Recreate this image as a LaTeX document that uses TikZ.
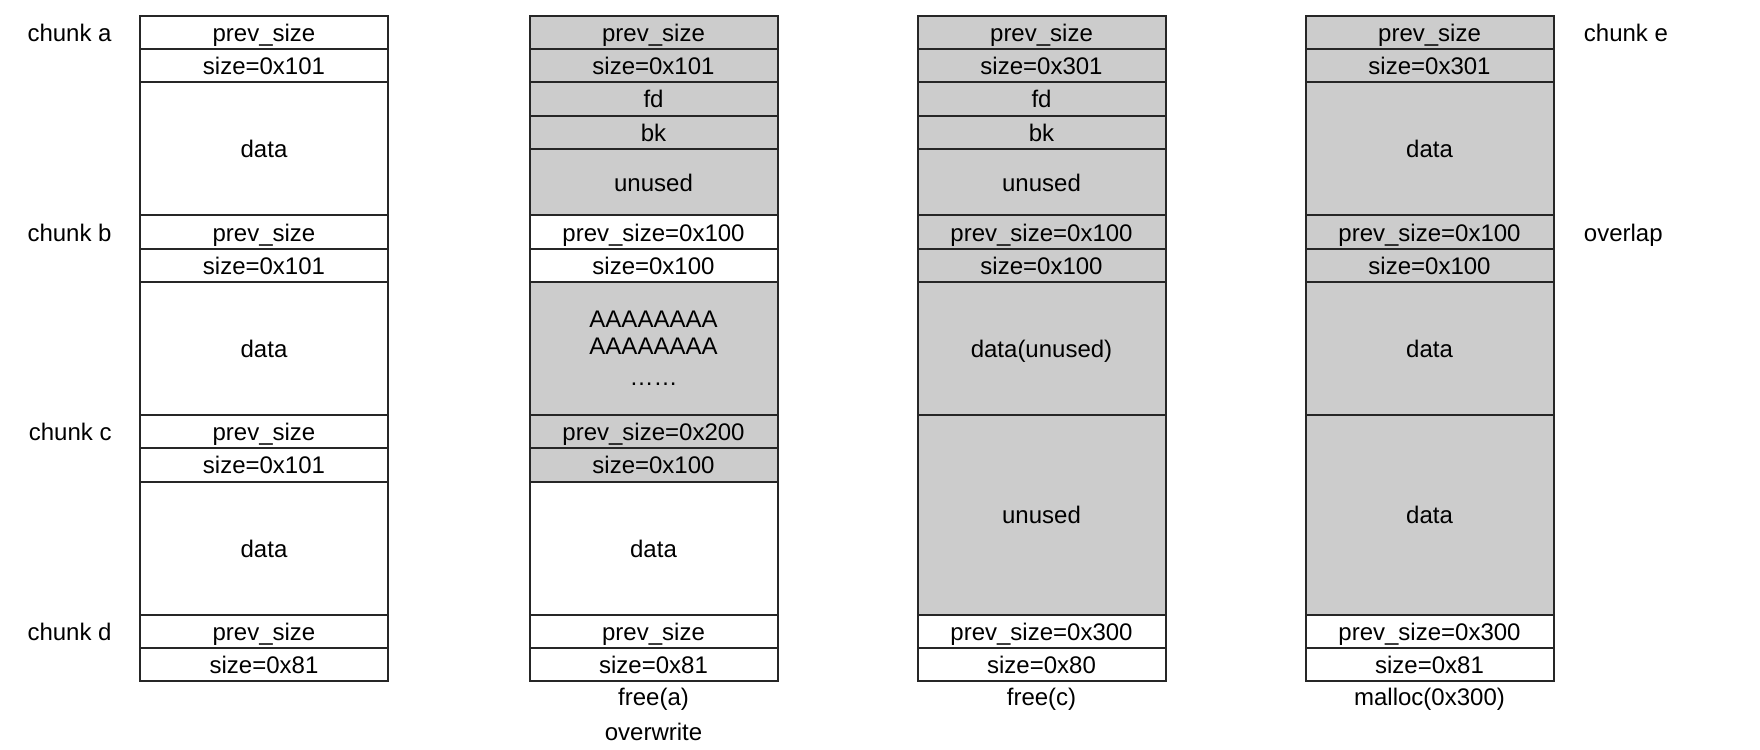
\documentclass[tikz,border=0pt]{standalone}
\usepackage{fontspec}
\setmainfont{Liberation Sans}
\usetikzlibrary{positioning}

\tikzstyle{mem-cell}=[draw=black!85, line width=1pt, outer sep=0pt, inner sep=0pt,
  minimum width=124pt, font=\fontsize{12pt}{13.5pt}\selectfont]
\tikzstyle{slot-1}=[mem-cell, minimum height=16.64pt, text height=9pt, text depth=0pt]
\tikzstyle{slot-2}=[mem-cell, minimum height=33.28pt, text height=9pt, text depth=0pt]
\tikzstyle{slot-4}=[mem-cell, minimum height=66.56pt, text height=9pt, text depth=0pt]
\tikzstyle{slot-6}=[mem-cell, minimum height=99.84pt, text height=9pt, text depth=0pt]
\tikzstyle{chunk-label}=[inner sep=0pt, text height=9pt, text depth=0pt,
  font=\fontsize{12pt}{13.5pt}\selectfont]
\definecolor{freed}{HTML}{CCCCCC}

\begin{document}
\begin{tikzpicture}
  \useasboundingbox (0,0) rectangle (880pt,-374.5pt);

  % original heap
  \node (orig-a-prev) at (132pt, -7.85pt) [slot-1, anchor=north] {prev\_size};
  \node (orig-a-size) [slot-1, below=0pt of orig-a-prev] {size=0x101};
  \node (orig-a-data) [slot-4, below=0pt of orig-a-size] {data};
  \node (orig-b-prev) [slot-1, below=0pt of orig-a-data] {prev\_size};
  \node (orig-b-size) [slot-1, below=0pt of orig-b-prev] {size=0x101};
  \node (orig-b-data) [slot-4, below=0pt of orig-b-size] {data};
  \node (orig-c-prev) [slot-1, below=0pt of orig-b-data] {prev\_size};
  \node (orig-c-size) [slot-1, below=0pt of orig-c-prev] {size=0x101};
  \node (orig-c-data) [slot-4, below=0pt of orig-c-size] {data};
  \node (orig-d-prev) [slot-1, below=0pt of orig-c-data] {prev\_size};
  \node (orig-d-size) [slot-1, below=0pt of orig-d-prev] {size=0x81};

  \node (lbl-a) [chunk-label, left=14pt of orig-a-prev] {chunk a};
  \node (lbl-b) [chunk-label, left=14pt of orig-b-prev] {chunk b};
  \node (lbl-c) [chunk-label, left=14pt of orig-c-prev] {chunk c};
  \node (lbl-d) [chunk-label, left=14pt of orig-d-prev] {chunk d};

  % free(a) + overwrite
  \node (ovw-a-prev) at (326.75pt, -7.85pt) [slot-1, anchor=north, fill=freed] {prev\_size};
  \node (ovw-a-size) [slot-1, fill=freed, below=0pt of ovw-a-prev] {size=0x101};
  \node (ovw-a-fd) [slot-1, fill=freed, below=0pt of ovw-a-size] {fd};
  \node (ovw-a-bk) [slot-1, fill=freed, below=0pt of ovw-a-fd] {bk};
  \node (ovw-a-unused) [slot-2, fill=freed, below=0pt of ovw-a-bk] {unused};
  \node (ovw-b-prev) [slot-1, below=0pt of ovw-a-unused] {prev\_size=0x100};
  \node (ovw-b-size) [slot-1, below=0pt of ovw-b-prev] {size=0x100};
  \node (ovw-b-data) [mem-cell, minimum height=66.56pt, align=center, fill=freed,
        below=0pt of ovw-b-size] {AAAAAAAA\\AAAAAAAA\\[2pt]……};
  \node (ovw-c-prev) [slot-1, fill=freed, below=0pt of ovw-b-data] {prev\_size=0x200};
  \node (ovw-c-size) [slot-1, fill=freed, below=0pt of ovw-c-prev] {size=0x100};
  \node (ovw-c-data) [slot-4, below=0pt of ovw-c-size] {data};
  \node (ovw-d-prev) [slot-1, below=0pt of ovw-c-data] {prev\_size};
  \node (ovw-d-size) [slot-1, below=0pt of ovw-d-prev] {size=0x81};

  \node (step-free-a) [chunk-label, below=2.7pt of ovw-d-size] {free(a)};
  \node (step-overwrite) [chunk-label, below=8.1pt of step-free-a] {overwrite};

  % free(c)
  \node (frc-a-prev) at (520.75pt, -7.85pt) [slot-1, anchor=north, fill=freed] {prev\_size};
  \node (frc-a-size) [slot-1, fill=freed, below=0pt of frc-a-prev] {size=0x301};
  \node (frc-a-fd) [slot-1, fill=freed, below=0pt of frc-a-size] {fd};
  \node (frc-a-bk) [slot-1, fill=freed, below=0pt of frc-a-fd] {bk};
  \node (frc-a-unused) [slot-2, fill=freed, below=0pt of frc-a-bk] {unused};
  \node (frc-b-prev) [slot-1, fill=freed, below=0pt of frc-a-unused] {prev\_size=0x100};
  \node (frc-b-size) [slot-1, fill=freed, below=0pt of frc-b-prev] {size=0x100};
  \node (frc-b-data) [slot-4, fill=freed, below=0pt of frc-b-size] {data(unused)};
  \node (frc-c-unused) [slot-6, fill=freed, below=0pt of frc-b-data] {unused};
  \node (frc-d-prev) [slot-1, below=0pt of frc-c-unused] {prev\_size=0x300};
  \node (frc-d-size) [slot-1, below=0pt of frc-d-prev] {size=0x80};

  \node (step-free-c) [chunk-label, below=2.7pt of frc-d-size] {free(c)};

  % malloc(0x300)
  \node (mal-a-prev) at (714.75pt, -7.85pt) [slot-1, anchor=north, fill=freed] {prev\_size};
  \node (mal-a-size) [slot-1, fill=freed, below=0pt of mal-a-prev] {size=0x301};
  \node (mal-a-data) [slot-4, fill=freed, below=0pt of mal-a-size] {data};
  \node (mal-b-prev) [slot-1, fill=freed, below=0pt of mal-a-data] {prev\_size=0x100};
  \node (mal-b-size) [slot-1, fill=freed, below=0pt of mal-b-prev] {size=0x100};
  \node (mal-b-data) [slot-4, fill=freed, below=0pt of mal-b-size] {data};
  \node (mal-c-data) [slot-6, fill=freed, below=0pt of mal-b-data] {data};
  \node (mal-d-prev) [slot-1, below=0pt of mal-c-data] {prev\_size=0x300};
  \node (mal-d-size) [slot-1, below=0pt of mal-d-prev] {size=0x81};

  \node (step-malloc) [chunk-label, below=2.7pt of mal-d-size] {malloc(0x300)};

  \node (lbl-e) [chunk-label, right=15pt of mal-a-prev] {chunk e};
  \node (lbl-overlap) [chunk-label, right=15pt of mal-b-prev] {overlap};
\end{tikzpicture}
\end{document}
